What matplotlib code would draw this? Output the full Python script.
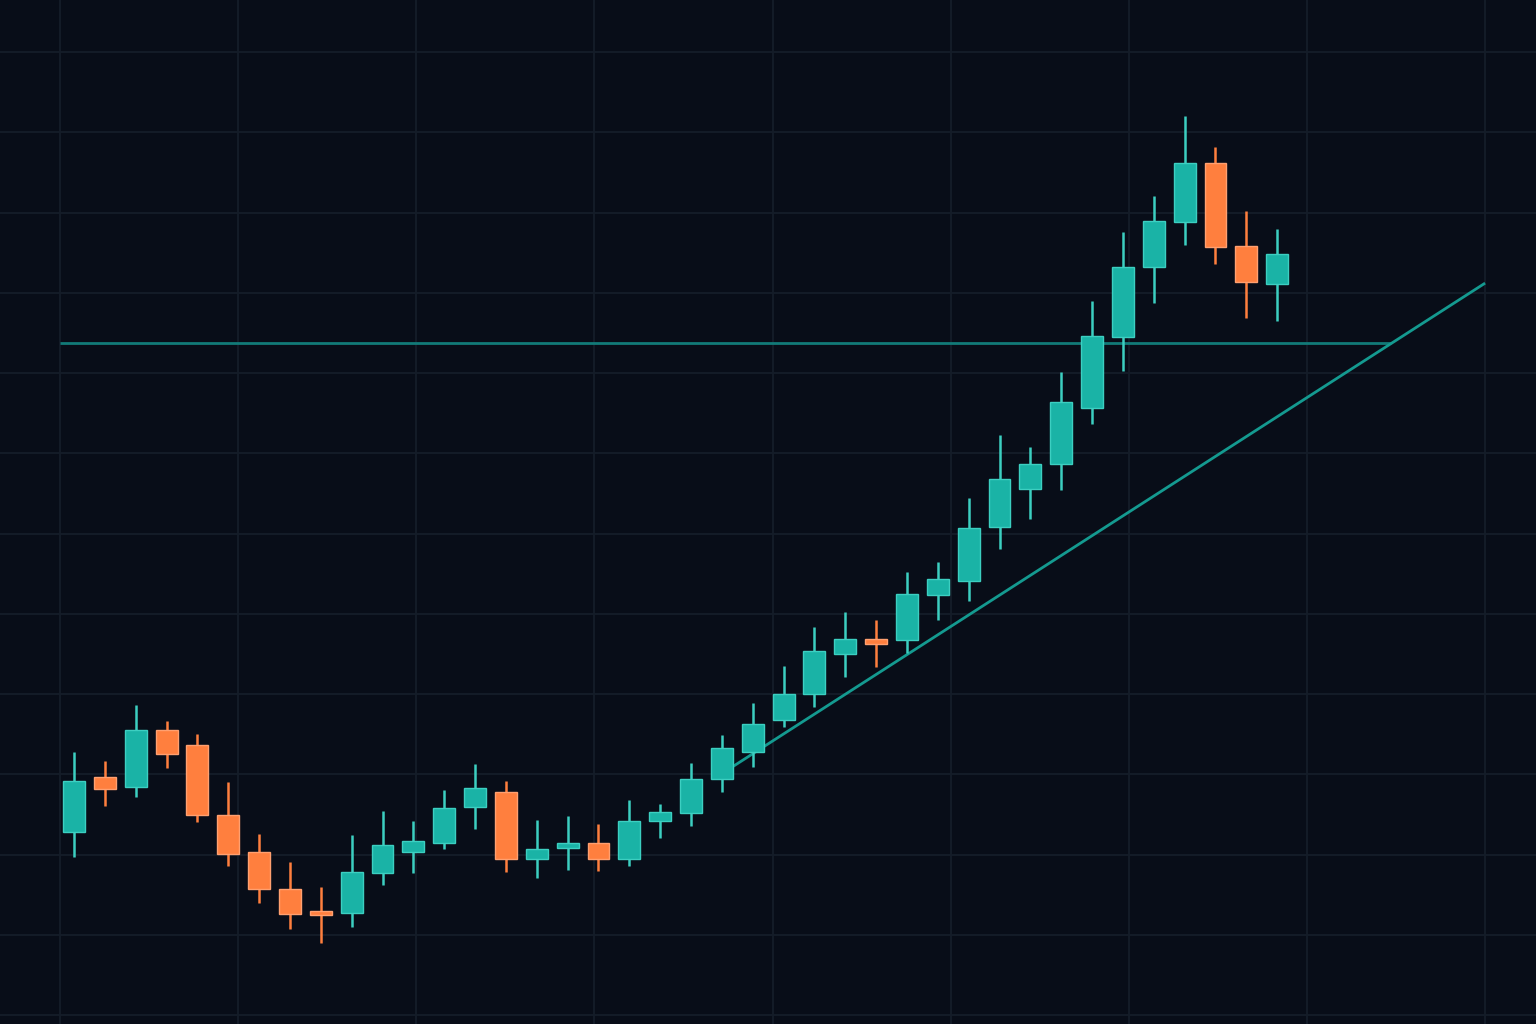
import numpy as np
import matplotlib
matplotlib.use("Agg")
import matplotlib.pyplot as plt

# OHLC values (arbitrary price units)
opens = [122.8, 129.7, 128.4, 135.5, 133.6, 124.9, 120.3, 115.7, 113.0, 112.7,
         117.7, 120.3, 121.4, 125.9, 127.8, 119.4, 120.8, 121.4, 119.4, 124.2,
         125.2, 129.4, 132.8, 136.8, 140.0, 145.0, 146.9, 146.7, 152.3, 154.1,
         160.8, 165.5, 168.7, 175.6, 184.5, 193.2, 198.8, 206.2, 195.8, 191.1]
highs = [132.8, 131.7, 138.6, 136.6, 135.0, 129.0, 122.6, 119.1, 116.0, 122.4,
         125.4, 124.2, 128.0, 131.3, 129.2, 124.3, 124.8, 123.8, 126.8, 126.3,
         131.4, 134.9, 138.9, 143.5, 148.3, 150.2, 149.2, 155.2, 156.4, 164.4,
         172.3, 170.8, 180.1, 189.0, 197.6, 202.1, 212.0, 208.2, 200.2, 197.9]
lows = [119.7, 126.0, 127.2, 130.8, 124.0, 118.6, 114.0, 110.7, 109.0, 111.0,
        116.2, 117.7, 120.7, 123.2, 117.8, 117.1, 118.1, 117.9, 118.6, 122.1,
        123.6, 127.8, 130.9, 135.9, 138.4, 142.1, 143.4, 145.1, 149.2, 151.6,
        158.1, 161.8, 165.4, 173.6, 180.2, 188.7, 196.0, 193.6, 186.9, 186.5]
closes = [129.2, 128.2, 135.5, 132.5, 124.9, 120.1, 115.7, 112.6, 112.5, 117.8,
          121.2, 121.7, 125.8, 128.3, 119.4, 120.7, 121.4, 119.4, 124.2, 125.3,
          129.4, 133.3, 136.3, 140.0, 145.4, 146.9, 146.2, 152.5, 154.3, 160.7,
          166.8, 168.7, 176.4, 184.6, 193.2, 198.9, 206.2, 195.7, 191.3, 194.8]

resistance = 183.7
trend_x = [21.17, 45.74]
trend_y = [130.5, 191.2]

BG = "#080d18"
GRID = "#151d29"
UP = "#1ab3a6"
UP_EDGE = "#3ccfc1"
DOWN = "#ff7f3e"
DOWN_EDGE = "#ffa070"

x = np.arange(len(opens))
o = np.array(opens)
c = np.array(closes)
up = c >= o

fig = plt.figure(figsize=(15.36, 10.24), dpi=100, facecolor=BG)
ax = fig.add_axes([0, 0, 1, 1])
ax.set_facecolor(BG)

# grid
ax.set_xticks(-0.454 + 5.774 * np.arange(9))
ax.set_yticks(np.arange(100, 221, 10))
ax.grid(True, color=GRID, linewidth=1.3)
ax.tick_params(length=0, labelbottom=False, labelleft=False)
for s in ax.spines.values():
    s.set_visible(False)

# support / resistance lines
slope = (trend_y[1] - trend_y[0]) / (trend_x[1] - trend_x[0])
x_cross = trend_x[0] + (resistance - trend_y[0]) / slope
ax.plot([-0.454, x_cross], [resistance, resistance], color="#127a78", lw=2.0,
        solid_capstyle="butt", zorder=2)
ax.plot(trend_x, trend_y, color="#149a90", lw=2.0, solid_capstyle="butt", zorder=2)

# wicks
wick_cols = np.where(up, UP_EDGE, DOWN)
ax.vlines(x, lows, highs, colors=wick_cols, lw=1.8, zorder=3)

# bodies
heights = np.where(np.abs(c - o) < 0.4, 0.4, c - o)
ax.bar(x, heights, bottom=o, width=0.71,
       color=np.where(up, UP, DOWN), edgecolor=np.where(up, UP_EDGE, DOWN_EDGE),
       linewidth=1.0, zorder=4)

ax.set_xlim(-2.399, 47.39)
ax.set_ylim(98.88, 226.48)

fig.savefig("out.png", dpi=100, facecolor=BG)
